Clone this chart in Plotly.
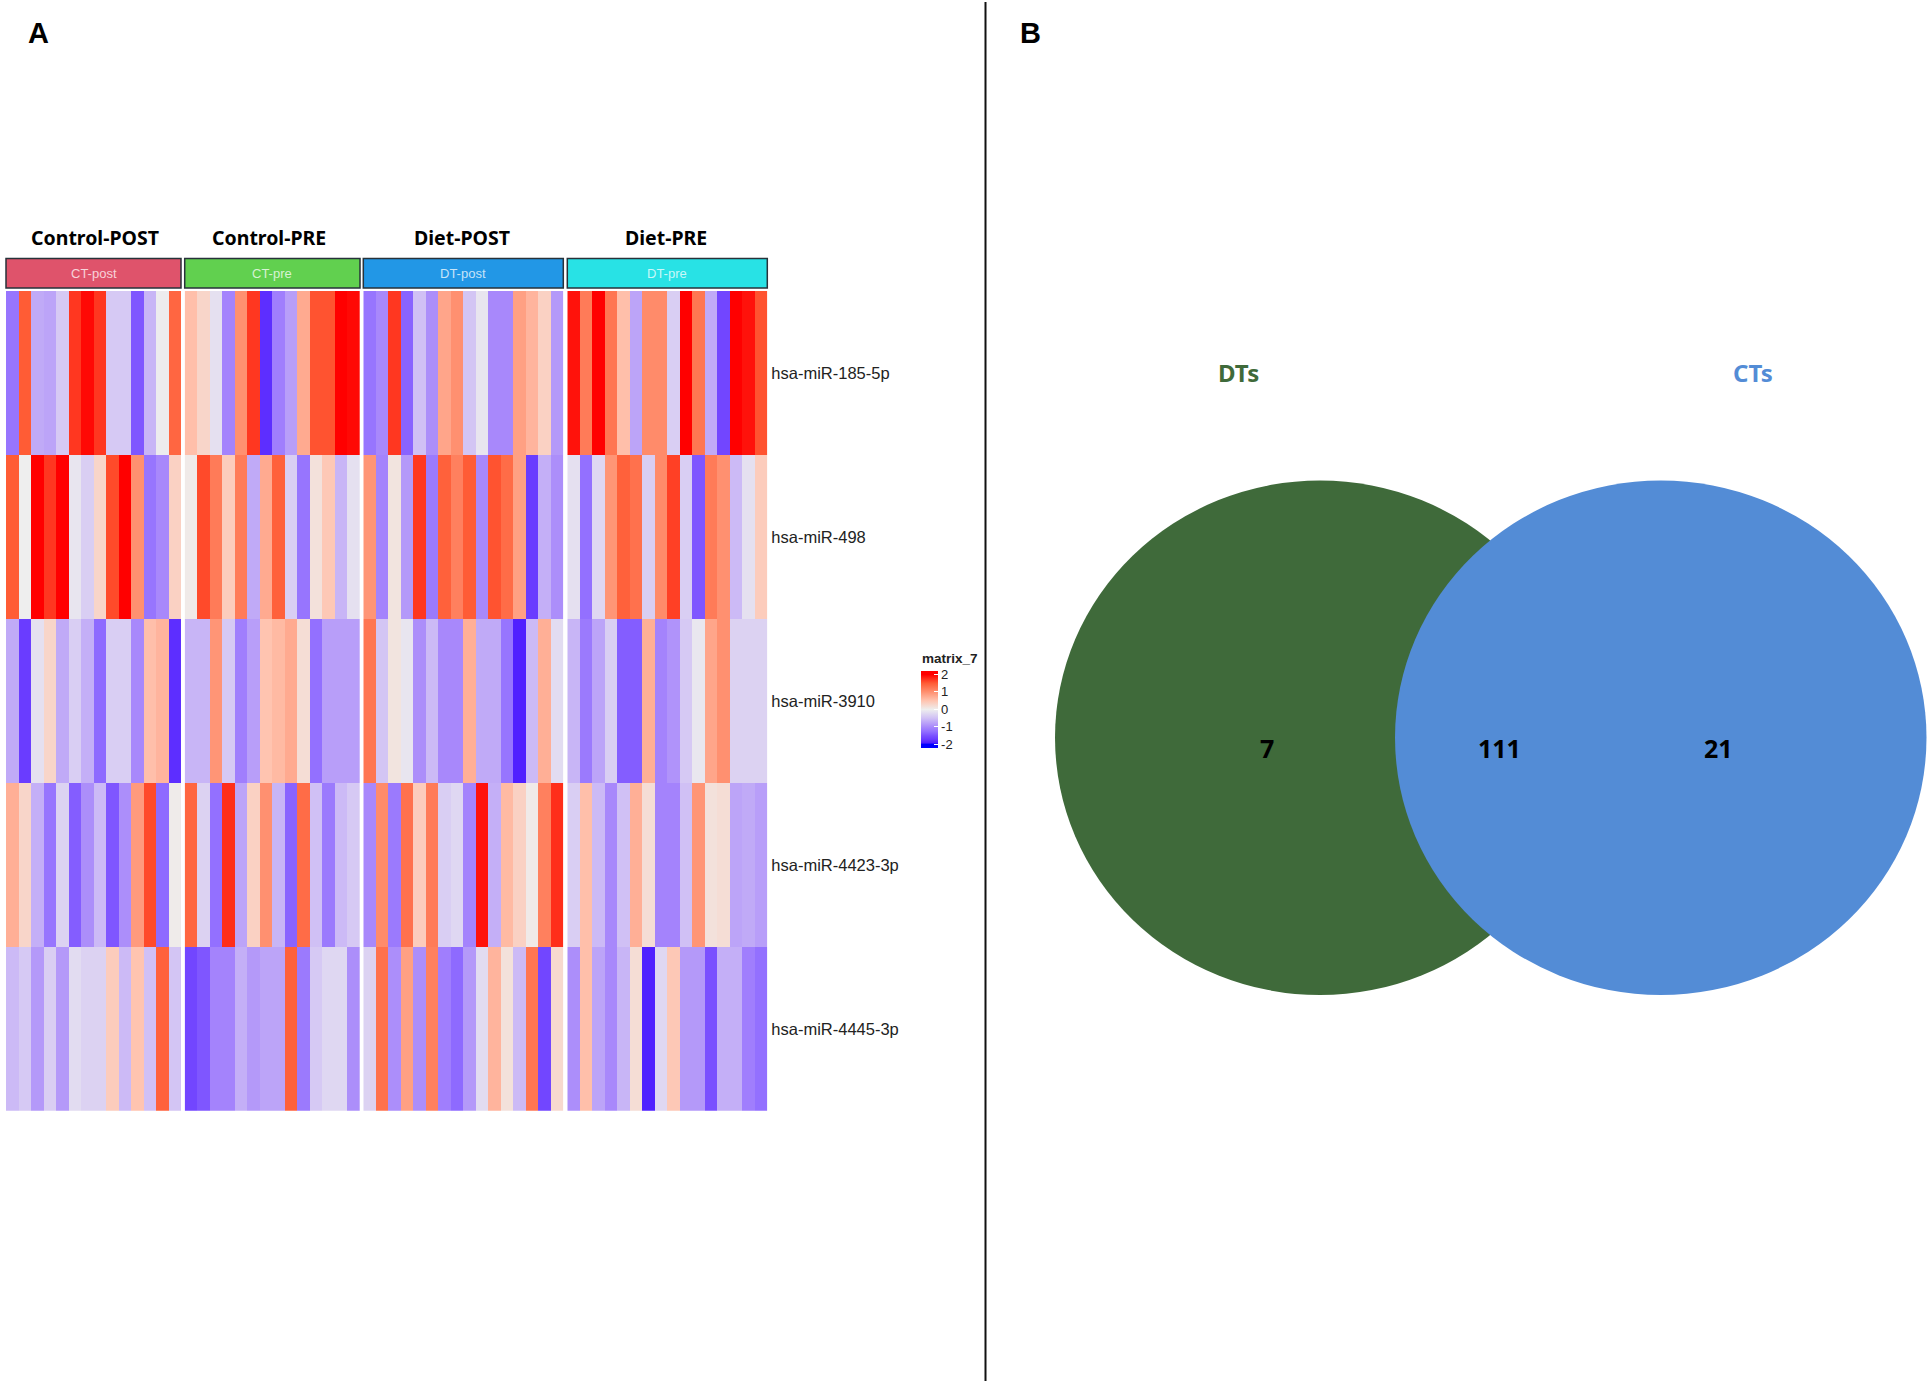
import plotly.graph_objects as go

W, H = 1931, 1386

mirnas = ["hsa-miR-185-5p", "hsa-miR-498", "hsa-miR-3910", "hsa-miR-4423-3p", "hsa-miR-4445-3p"]

ct_post = [
    [-1.2, 1.5, -0.7, -0.75, -0.4, 1.7, 1.95, 1.7, -0.4, -0.4, -1.45, -0.6, -0.02, 1.4],
    [1.5, 0, 2, 1.7, 2, -0.1, -0.35, 0.3, 1.6, 2, 1.0, -1.2, -1.0, 0.35],
    [-0.7, -1.7, -0.15, 0.3, -0.7, -0.35, -0.65, -1.3, -0.35, -0.35, -1.0, 0.55, 0.65, -1.8],
    [0.7, 0.3, -0.65, -1.2, -0.3, -1.4, -0.95, -0.55, -1.45, -0.95, 0.9, 1.6, -1.3, 0.03],
    [-0.55, -0.4, -0.85, -0.35, -0.85, -0.2, -0.3, -0.3, 0.4, -0.55, 0.5, -0.5, 1.45, -0.45],
]
ct_pre = [
    [0.55, 0.3, -0.15, -1.05, 1.0, 1.7, -1.8, -1.1, -0.8, 0.75, 1.55, 1.55, 2.0, 1.95],
    [0.05, 1.6, 1.2, 0.4, 1.2, -0.7, 0.75, 1.45, -0.35, -1.2, 0.15, 0.45, -0.6, -0.15],
    [-0.6, -0.6, 0.95, -0.4, -1.1, -0.8, 0.5, 0.6, 0.75, 0.2, -1.25, -0.8, -0.8, -0.8],
    [1.4, -0.3, -1.25, 1.75, -0.75, 0.35, 1.0, -0.6, -1.35, 1.35, -0.5, -1.15, -0.55, -0.4],
    [-1.6, -1.45, -1.05, -1.05, -0.65, -0.85, -0.75, -0.75, 1.45, -1.15, -0.4, -0.25, -0.25, -0.95],
]
dt_post = [
    [-1.2, -1.0, 1.7, -1.35, -0.5, -0.95, 0.8, 1.0, -0.45, -0.1, -1.0, -1.0, 0.85, 0.65, 0.35, -0.85],
    [0.95, -1.05, 0.12, -0.85, 1.7, -1.15, 1.45, 1.15, 1.5, -1.0, 1.55, 1.35, 0.85, -1.7, -0.65, -0.95],
    [1.25, -0.45, 0.12, -0.1, -0.95, -0.55, -1.0, -1.0, 0.7, -0.7, -0.7, -1.2, -1.9, -0.55, 0.7, -0.2],
    [-1.0, 1.05, -1.15, 1.3, 0.4, 1.2, -0.35, -0.25, -1.05, 1.9, -0.65, 0.6, 0.35, 0.05, 1.15, 1.75],
    [-0.3, 1.3, -0.95, 0.85, -0.95, 1.15, -1.1, -1.3, -0.85, -0.2, 0.65, 0.15, -0.55, 1.25, -1.6, 0.25],
]
dt_pre = [
    [1.9, 1.2, 2, 1.25, 0.55, -0.75, 1.05, 1.05, -0.35, 2, 1.25, -0.7, -1.6, 2, 1.9, 1.55],
    [-0.15, -1.25, -0.25, 0.95, 1.45, 1.3, -0.35, 1.05, 1.65, -0.35, -1.45, 1.2, 1.0, -0.55, -0.15, 0.4],
    [-0.6, -1.15, -0.75, -0.35, -1.4, -1.4, 0.7, -1.05, -0.9, -0.4, -0.08, 0.8, 1.0, -0.3, -0.3, -0.3],
    [-0.35, 0.55, -0.55, -1.0, -0.5, 0.7, 0.2, -1.05, -1.05, -0.5, 0.95, 0.15, 0.2, -0.75, -0.7, -0.8],
    [-0.95, 0.55, -0.75, -1.0, -0.6, 0.2, -1.9, -0.25, 0.45, -0.85, -0.85, -1.5, -0.65, -0.65, -1.1, -1.25],
]
group_titles = ["Control-POST", "Control-PRE", "Diet-POST", "Diet-PRE"]
group_tags = ["CT-post", "CT-pre", "DT-post", "DT-pre"]
group_colors = ["#DF536B", "#61D04F", "#2297E6", "#28E2E5"]
group_values = [ct_post, ct_pre, dt_post, dt_pre]
group_px = [(6, 181), (184.7, 360), (363.3, 563.3), (567.3, 767.3)]
title_cx = [95, 268.5, 462, 666]

venn_labels = ["DTs", "CTs"]
venn_colors = ["#3F6A3A", "#538CD6"]
venn_counts = ["7", "111", "21"]

TOP, BOTTOM = 291, 1110.7

ZLIM = 2.2
scale_values = [-2.2, -2.0, -1.9, -1.7, -1.5, -1.25, -1.0, -0.5, 0, 0.5, 1.0, 1.5, 2.0, 2.2]
scale_colors = ["#0000ff", "#0000ff", "#5020ff", "#6a3cff", "#7a50ff", "#9370ff", "#a888fb", "#d0c0f5",
                "#eeeeee", "#ffc4b0", "#ff9070", "#ff5c35", "#ff0000", "#ff0000"]
colorscale = [[(v + ZLIM) / (2 * ZLIM), c] for v, c in zip(scale_values, scale_colors)]

HELV = "Liberation Sans"
HEAD = "Noto Sans"


def note(x, y, text, **font):
    return dict(xref="x5", yref="y5", x=x, y=y, text=text, showarrow=False,
                xanchor="center", yanchor="middle", font=font)


fig = go.Figure()
layout = dict(
    width=W, height=H, margin=dict(l=0, r=0, t=0, b=0, autoexpand=False),
    paper_bgcolor="white", plot_bgcolor="rgba(0,0,0,0)", showlegend=False,
    coloraxis=dict(
        cmin=-ZLIM, cmax=ZLIM, colorscale=colorscale,
        colorbar=dict(
            thickness=17, len=77, lenmode="pixels", x=921 / W, xanchor="left", xpad=0,
            y=1 - 670.5 / H, yanchor="top", ypad=0, outlinewidth=0,
            tickmode="array", tickvals=[-2, -1, 0, 1, 2], ticktext=["-2", "-1", "0", "1", "2"],
            ticks="inside", ticklen=4, tickcolor="white",
            tickfont=dict(family=HELV, size=13, color="#222222"),
        ),
    ),
)
shapes, annotations = [], []

for i, (vals, (x0, x1)) in enumerate(zip(group_values, group_px)):
    suffix = "" if i == 0 else str(i + 1)
    fig.add_trace(go.Heatmap(
        z=vals, x=list(range(len(vals[0]))), y=mirnas, coloraxis="coloraxis",
        xaxis="x" + suffix, yaxis="y",
    ))
    layout["xaxis" + suffix] = dict(domain=[x0 / W, x1 / W], visible=False, anchor="y")
    shapes.append(dict(type="rect", xref=f"x{suffix} domain", yref="paper", x0=0, x1=1,
                       y0=1 - 288 / H, y1=1 - 258.5 / H, fillcolor=group_colors[i],
                       line=dict(color="#27323a", width=1.5)))
    annotations.append(note((x0 + x1) / 2, 273, group_tags[i], family=HELV, size=13,
                            color="rgba(255,255,255,0.75)"))
    annotations.append(note(title_cx[i], 237, f"<b>{group_titles[i]}</b>", family=HEAD, size=19.5,
                            color="black"))

layout["yaxis"] = dict(domain=[1 - BOTTOM / H, 1 - TOP / H], autorange="reversed", side="right",
                       anchor="x4", showline=False, showgrid=False, zeroline=False, ticks="",
                       ticklabelstandoff=3, tickfont=dict(family=HELV, size=16.5, color="#222222"))

# panel B drawn on a hidden axis pair measured in image pixels
layout["xaxis5"] = dict(domain=[0, 1], range=[0, W], visible=False, anchor="y5")
layout["yaxis5"] = dict(domain=[0, 1], range=[H, 0], visible=False, anchor="x5")
fig.add_trace(go.Scatter(x=[985.5, 985.5], y=[2, 1381], mode="lines", xaxis="x5", yaxis="y5",
                         line=dict(color="#111111", width=2), hoverinfo="skip"))
shapes.append(dict(type="circle", xref="x5", yref="y5", x0=1055, x1=1585, y0=480.5, y1=995,
                   fillcolor=venn_colors[0], line=dict(width=0), layer="above"))
shapes.append(dict(type="circle", xref="x5", yref="y5", x0=1395, x1=1926.5, y0=480.5, y1=995,
                   fillcolor=venn_colors[1], line=dict(width=0), layer="above"))
for text, color, x in zip(venn_labels, venn_colors, (1238, 1753)):
    annotations.append(note(x, 372, f"<b>{text}</b>", family=HEAD, size=24, color=color))
for text, x in zip(venn_counts, (1266.5, 1499, 1718)):
    annotations.append(note(x, 748, f"<b>{text}</b>", family=HEAD, size=25, color="black"))
annotations.append(note(38, 33, "<b>A</b>", family=HELV, size=29, color="black"))
annotations.append(note(1030, 33, "<b>B</b>", family=HELV, size=29, color="black"))
annotations.append(note(950, 658, "<b>matrix_7</b>", family=HELV, size=13.5, color="#222222"))

layout["shapes"] = shapes
layout["annotations"] = annotations
fig.update_layout(**layout)
fig.write_html("out.html", config={"displayModeBar": False},
               post_script="document.body.style.margin='0';")
